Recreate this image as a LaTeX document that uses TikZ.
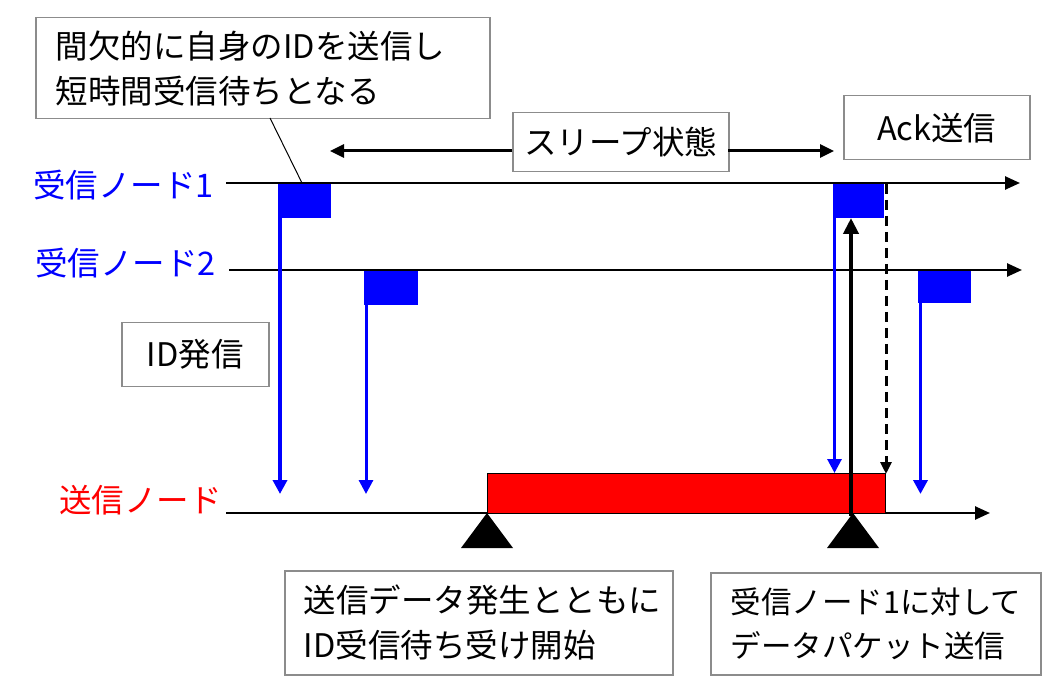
\documentclass[tikz,border=0pt]{standalone}
\usepackage{fontspec}
\setmainfont{Noto Sans CJK JP}
\usetikzlibrary{arrows.meta}
\definecolor{boxgray}{RGB}{140,140,140}
\definecolor{pblue}{RGB}{0,0,255}
\definecolor{pred}{RGB}{255,0,0}
\begin{document}
\begin{tikzpicture}[x=1pt,y=-1pt,
  box/.style={draw=boxgray, line width=1.5pt, fill=white, inner sep=0pt, font=\fontsize{32.5}{45}\selectfont},
  lbox/.style={box, align=left, inner xsep=20pt, anchor=north west},
  cbox/.style={box, align=center, anchor=north west},
  lbl/.style={inner sep=0pt, anchor=east, font=\fontsize{32.5}{40}\selectfont},
  axis/.style={line width=2.5pt, -{Triangle[length=15pt,width=13pt]}},
  blk/.style={fill=pblue, inner sep=0pt, anchor=north west},
  barrow/.style={draw=pblue, line width=3.5pt, -{Triangle[length=14pt,width=14pt]}},
  upar/.style={line width=4.5pt, -{Triangle[length=16pt,width=15pt]}},
  dasharrow/.style={line width=3pt, dash pattern=on 10pt off 6pt, -{Triangle[length=12pt,width=11pt]}},
  sleeparrow/.style={line width=3pt, -{Triangle[length=14pt,width=13pt]}},
]
\useasboundingbox (0,0) rectangle (1050,676);
\fill[white] (0,0) rectangle (1050,676);

% axes
\coordinate (r1s) at (226,183); \coordinate (r1e) at (1020,183);
\coordinate (r2s) at (229,270); \coordinate (r2e) at (1022,270);
\coordinate (ss) at (226,513); \coordinate (se) at (990,513);
\draw[axis] (r1s) -- (r1e);
\draw[axis] (r2s) -- (r2e);
\draw[axis] (ss) -- (se);

% labels
\node[lbl, text=pblue] (l1) at (214,185) {受信ノード1};
\node[lbl, text=pblue] (l2) at (216,263) {受信ノード2};
\node[lbl, text=pred] (l3) at (222,500) {送信ノード};

% red transmission box
\node[draw=black, line width=1pt, fill=pred, inner sep=0pt, minimum width=398pt, minimum height=40pt, anchor=north west] (tx) at (487,473) {};

% blue blocks
\node[blk, minimum width=53pt, minimum height=34pt] (b1) at (278,184) {};
\node[blk, minimum width=54pt, minimum height=34pt] (b2) at (364,271) {};
\node[blk, minimum width=51pt, minimum height=34pt] (b3) at (833,184) {};
\node[blk, minimum width=53pt, minimum height=32pt] (b4) at (918,271) {};

\coordinate (e1) at (280,494);
\coordinate (e2) at (366,494);
\coordinate (e3) at (834.5,473);
\coordinate (e4) at (920.5,494);
\draw[barrow] (280,216) -- (e1);
\draw[barrow, line width=3pt] (366,303) -- (e2);
\draw[barrow, line width=3pt] (834.5,216) -- (e3);
\draw[barrow] (920.5,303) -- (e4);

% dashed ack arrow
\coordinate (ds) at (886,184);
\coordinate (de) at (886,474);
\draw[dasharrow] (ds) -- (de);

% black data packet arrow
\coordinate (us) at (851,516);
\coordinate (ue) at (851,218);
\draw[upar] (us) -- (ue);

% triangle markers
\fill (461,548) -- (487,513) -- (513,548) -- cycle;
\fill (827,548) -- (853,513) -- (879,548) -- cycle;

% boxes
\node[lbox, text width=414pt, minimum height=101pt] (top) at (35,17) {間欠的に自身のIDを送信し\\短時間受信待ちとなる};
\coordinate (cp) at (302,183);
\draw[line width=1pt] (270,118) -- (cp);

\node[cbox, minimum width=216pt, minimum height=59pt] (sleep) at (512,112) {スリープ状態};
\coordinate (sl) at (330,151);
\coordinate (sr) at (834,151);
\draw[sleeparrow] (512,151) -- (sl);
\draw[sleeparrow] (728,151) -- (sr);

\node[cbox, minimum width=186pt, minimum height=64pt] (ack) at (843,95) {Ack送信};
\node[cbox, minimum width=147pt, minimum height=64pt] (idb) at (121,322) {ID発信};

\node[lbox, text width=350pt, minimum height=104pt, inner xsep=19pt] (bl) at (284,570) {送信データ発生とともに\\ID受信待ち受け開始};
\node[lbox, text width=290pt, minimum height=102pt, font=\fontsize{30.5}{44}\selectfont] (br) at (710,572) {受信ノード1に対して\\データパケット送信};
\end{tikzpicture}
\end{document}
